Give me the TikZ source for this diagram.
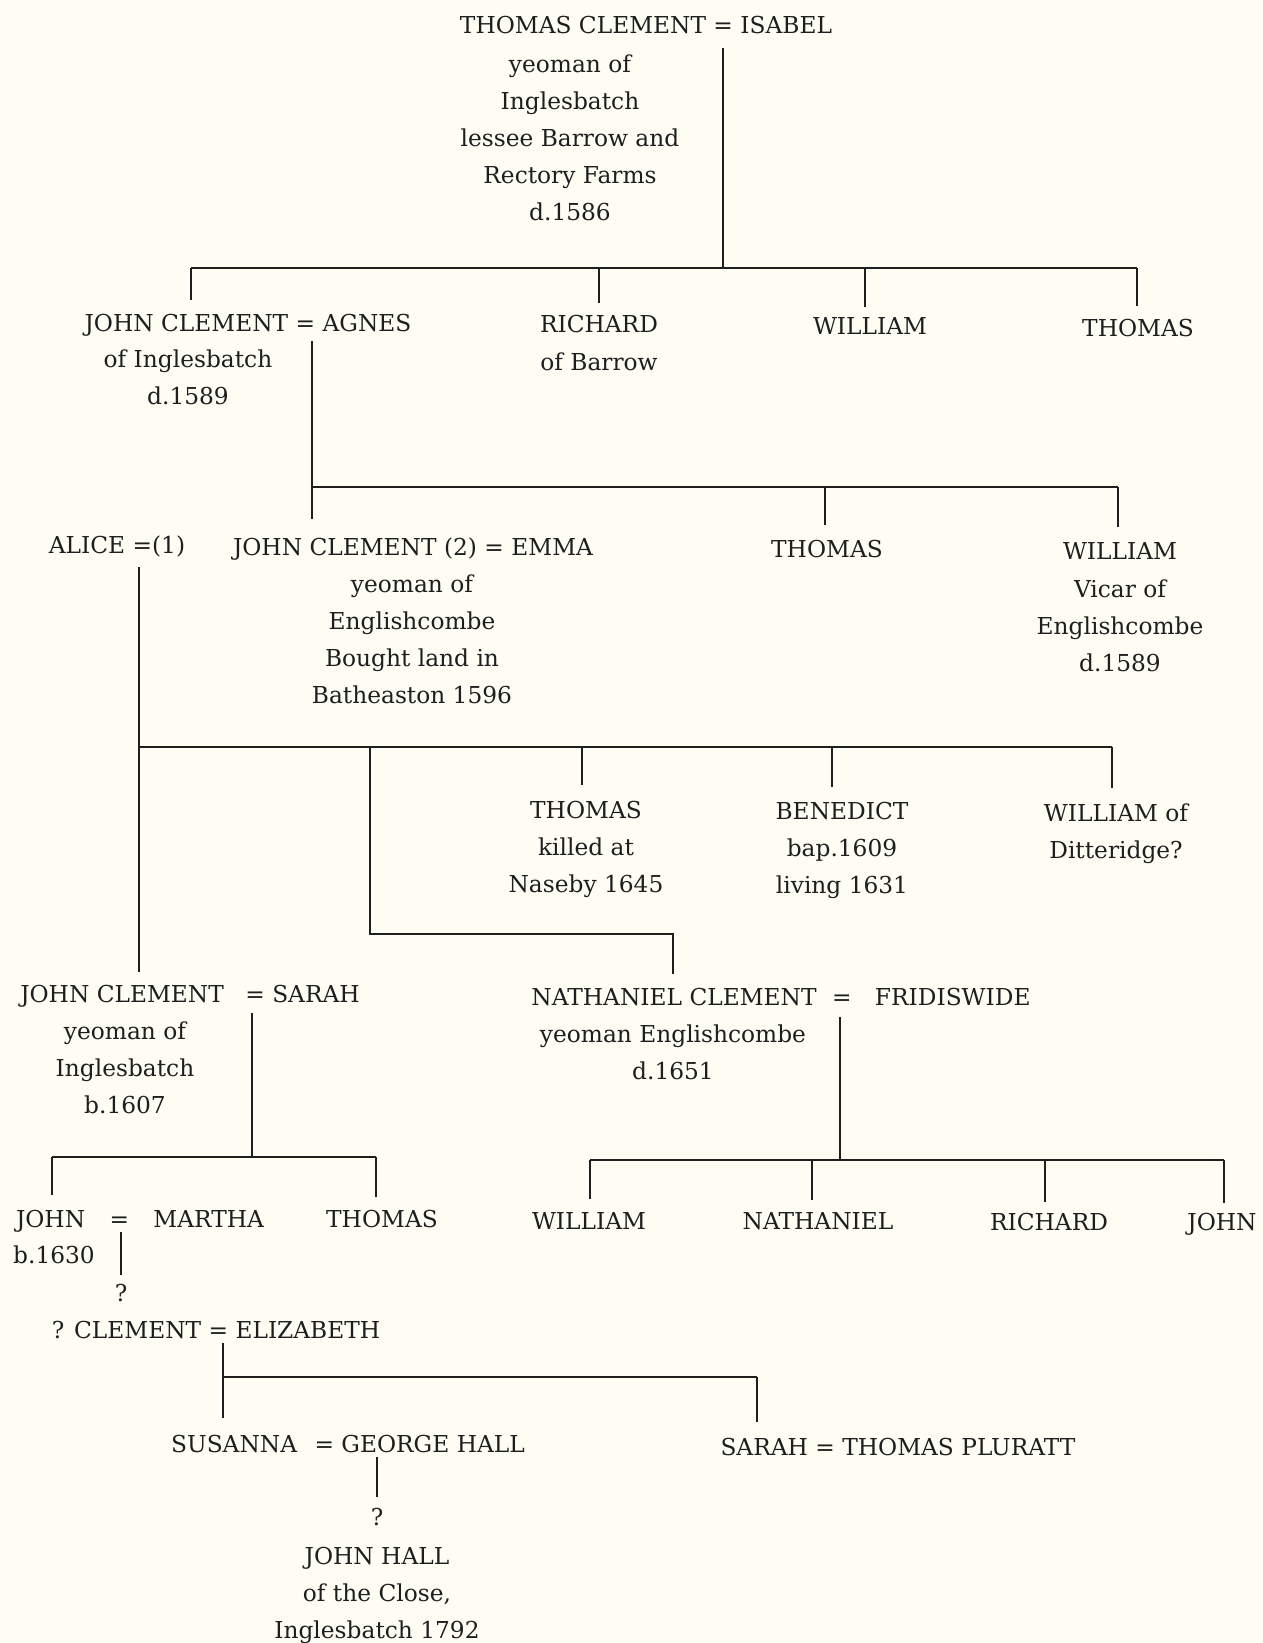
\documentclass[tikz,border=0pt]{standalone}
\usepackage{fontspec}
\setmainfont{DejaVu Serif}
\definecolor{paper}{RGB}{253,253,244}
\definecolor{ink}{RGB}{30,30,30}
\begin{document}
\begin{tikzpicture}[x=1pt,y=-1pt,
  t/.style={inner sep=0pt, anchor=base, align=center, text=ink, font=\fontsize{23.3}{37}\selectfont},
  ln/.style={draw=ink, line width=1.2pt}]
\fill[paper] (0,0) rectangle (1263,1643);
\useasboundingbox (0,0) rectangle (1263,1643);

% multi-line nodes are placed by the baseline of their last line
% generation 1
\node[t] (tc) at (646,34) {THOMAS CLEMENT = ISABEL};
\node[t] (tcd) at (570,220) {yeoman of\\Inglesbatch\\lessee Barrow and\\Rectory Farms\\d.1586};
% generation 2
\node[t] (jc) at (248,331) {JOHN CLEMENT = AGNES};
\node[t] (jcd) at (188,404) {of Inglesbatch\\d.1589};
\node[t] (rich) at (599,332) {RICHARD};
\node[t] (richd) at (599,370) {of Barrow};
\node[t] (will1) at (870,334) {WILLIAM};
\node[t] (thom1) at (1138,336) {THOMAS};
% generation 3
\node[t] (alice) at (117,553) {ALICE =(1)};
\node[t] (jc2) at (413,555) {JOHN CLEMENT (2) = EMMA};
\node[t] (jc2d) at (412,703) {yeoman of\\Englishcombe\\Bought land in\\Batheaston 1596};
\node[t] (thom2) at (827,557) {THOMAS};
\node[t] (will2) at (1120,559) {WILLIAM};
\node[t] (will2d) at (1120,671) {Vicar of\\Englishcombe\\d.1589};
% generation 4
\node[t] (thom3) at (586,892) {THOMAS\\killed at\\Naseby 1645};
\node[t] (ben) at (842,893) {BENEDICT\\bap.1609\\living 1631};
\node[t] (will3) at (1116,858) {WILLIAM of\\Ditteridge?};
\node[t] (jc3) at (190,1002) {JOHN CLEMENT\hspace{14pt} = SARAH};
\node[t] (jc3d) at (125,1113) {yeoman of\\Inglesbatch\\b.1607};
\node[t] (nat) at (781,1005) {NATHANIEL CLEMENT\hspace{8pt} = \hspace{16pt}FRIDISWIDE};
\node[t] (natd) at (673,1079) {yeoman Englishcombe\\d.1651};
% generation 5
\node[t] (jm) at (140,1227) {JOHN\hspace{17pt} = \hspace{17pt}MARTHA};
\node[t] (jmd) at (54,1263) {b.1630};
\node[t] (thom4) at (382,1227) {THOMAS};
\node[t] (will4) at (589,1229) {WILLIAM};
\node[t] (nat2) at (818,1229) {NATHANIEL};
\node[t] (rich2) at (1049,1230) {RICHARD};
\node[t] (john5) at (1222,1230) {JOHN};
\node[t] (q1) at (121,1301) {?};
% generation 6
\node[t] (ce) at (216,1338) {? CLEMENT = ELIZABETH};
% generation 7
\node[t] (sus) at (348,1452) {SUSANNA\hspace{10pt} = GEORGE HALL};
\node[t] (sar) at (898,1455) {SARAH = THOMAS PLURATT};
\node[t] (q2) at (377,1525) {?};
\node[t] (jh) at (377,1638) {JOHN HALL\\of the Close,\\Inglesbatch 1792};

% ---- connectors ----
% Thomas Clement = Isabel
\coordinate (b1) at (723,268);
\coordinate (b1l) at (191,268);
\coordinate (b1r) at (1137,268);
\draw[ln, shorten <=14pt] (tc.base -| b1) -- (b1);
\draw[ln] (b1l) -- (b1r);
\draw[ln, shorten >=31pt] (b1l) -- (b1l |- jc.base);
\draw[ln, shorten >=29pt] (b1 -| rich.base) -- (rich.base);
\draw[ln, shorten >=27pt] (b1 -| 865,0) -- (865,334);
\draw[ln, shorten >=30pt] (b1r) -- (b1r |- thom1.base);

% John Clement = Agnes
\coordinate (b2) at (312,487);
\coordinate (b2r) at (1118,487);
\draw[ln, shorten <=10pt] (jc.base -| b2) -- (b2);
\draw[ln] (b2) -- (b2r);
\draw[ln, shorten >=36pt] (b2) -- (b2 |- jc2.base);
\draw[ln, shorten >=32pt] (b2 -| 825,0) -- (825,557);
\draw[ln, shorten >=32pt] (b2r) -- (b2r |- will2.base);

% Alice = John Clement (2) = Emma
\coordinate (b3) at (139,747);
\coordinate (b3r) at (1112,747);
\coordinate (b3e) at (370,747);
\coordinate (e1) at (370,934);
\coordinate (e2) at (673,934);
\draw[ln, shorten <=14pt] (alice.base -| b3) -- (b3);
\draw[ln] (b3) -- (b3r);
\draw[ln, shorten >=30pt] (b3) -- (b3 |- jc3.base);
\draw[ln, shorten >=33pt] (b3 -| 582,0) -- (582,818);
\draw[ln, shorten >=33pt] (b3 -| 832,0) -- (832,820);
\draw[ln, shorten >=34pt] (b3r) -- (b3r |- 0,822);
\draw[ln, shorten >=31pt] (b3e) -- (e1) -- (e2) -- (e2 |- nat.base);

% John Clement = Sarah
\coordinate (b4) at (252,1157);
\coordinate (b4l) at (52,1157);
\coordinate (b4r) at (376,1157);
\draw[ln, shorten <=11pt] (jc3.base -| b4) -- (b4);
\draw[ln] (b4l) -- (b4r);
\draw[ln, shorten >=32pt] (b4l) -- (b4l |- jm.base);
\draw[ln, shorten >=30pt] (b4r) -- (b4r |- thom4.base);

% Nathaniel Clement = Fridiswide
\coordinate (b5) at (840,1160);
\coordinate (b5l) at (590,1160);
\coordinate (b5r) at (1224,1160);
\draw[ln, shorten <=12pt] (nat.base -| b5) -- (b5);
\draw[ln] (b5l) -- (b5r);
\draw[ln, shorten >=30pt] (b5l) -- (b5l |- will4.base);
\draw[ln, shorten >=29pt] (b5 -| 812,0) -- (812,1229);
\draw[ln, shorten >=28pt] (b5 -| 1045,0) -- (1045,1230);
\draw[ln, shorten >=27pt] (b5r) -- (b5r |- john5.base);

% John = Martha
\draw[ln, shorten <=5pt, shorten >=26pt] (jm.base -| q1.base) -- (q1.base);

% ? Clement = Elizabeth
\coordinate (b6) at (223,1377);
\coordinate (b6r) at (757,1377);
\draw[ln, shorten <=5pt] (ce.base -| b6) -- (b6);
\draw[ln] (b6) -- (b6r);
\draw[ln, shorten >=34pt] (b6) -- (b6 |- sus.base);
\draw[ln, shorten >=33pt] (b6r) -- (b6r |- sar.base);

% Susanna = George Hall
\draw[ln, shorten <=5pt, shorten >=28pt] (sus.base -| q2.base) -- (q2.base);
\end{tikzpicture}
\end{document}
